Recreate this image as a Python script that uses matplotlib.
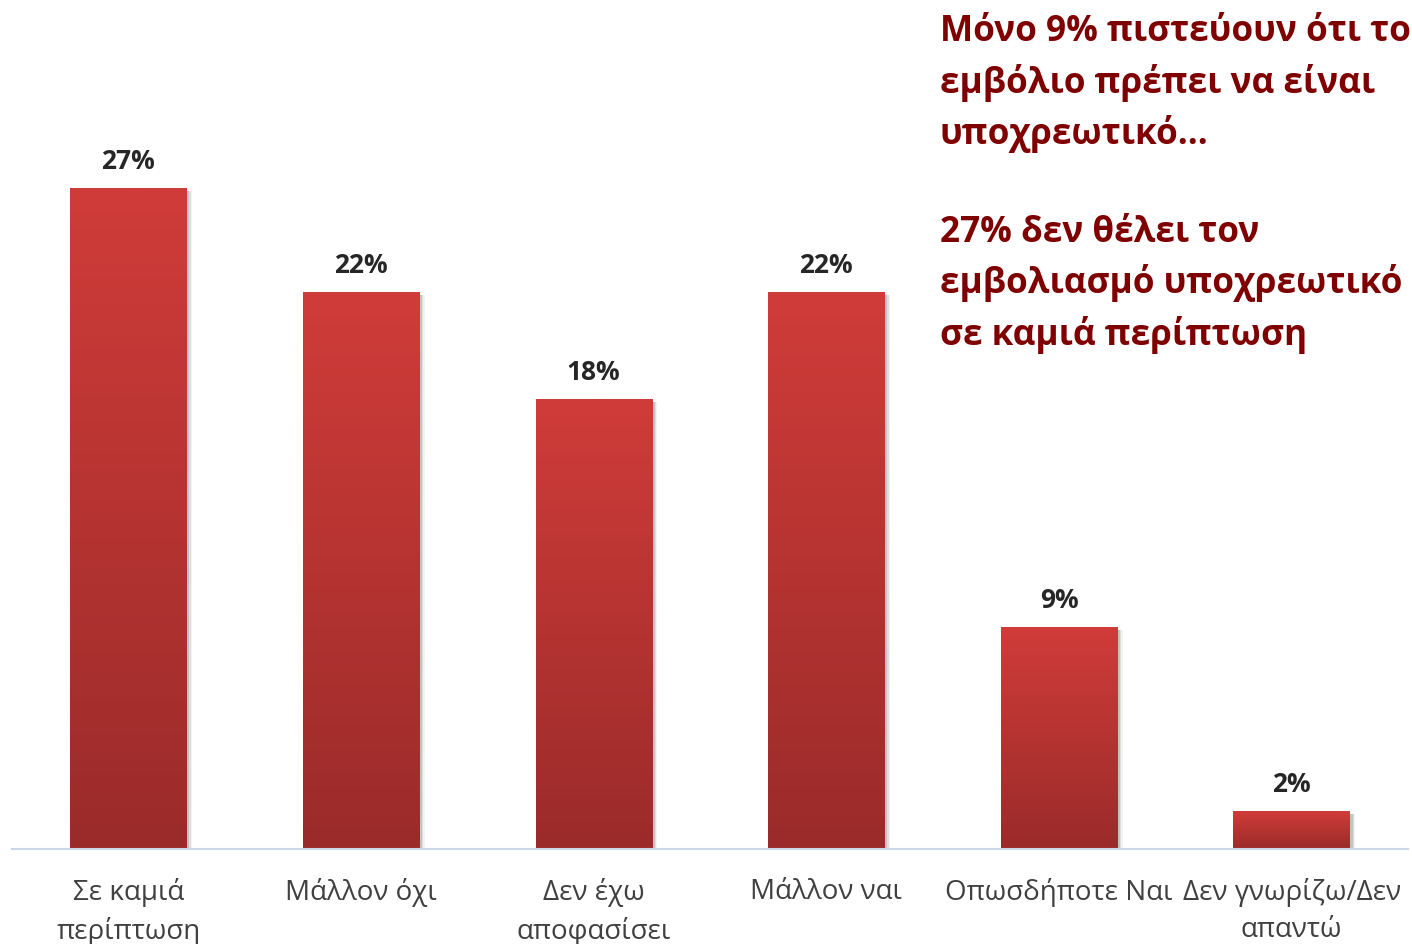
import numpy as np
import matplotlib
matplotlib.use("Agg")
import matplotlib.pyplot as plt
from matplotlib.colors import LinearSegmentedColormap
from matplotlib.patches import Rectangle

plt.rcParams['font.family'] = ['Open Sans', 'DejaVu Sans']

categories = ['Σε καμιά\nπερίπτωση', 'Μάλλον όχι', 'Δεν έχω\nαποφασίσει',
              'Μάλλον ναι', 'Οπωσδήποτε Ναι', 'Δεν γνωρίζω/Δεν\nαπαντώ']
values = [26.6, 22.4, 18.1, 22.4, 8.9, 1.5]
value_labels = ['27%', '22%', '18%', '22%', '9%', '2%']
note = ('Μόνο 9% πιστεύουν ότι το\nεμβόλιο πρέπει να είναι\nυποχρεωτικό…\n\n'
        '27% δεν θέλει τον\nεμβολιασμό υποχρεωτικό\nσε καμιά περίπτωση')

fig = plt.figure(figsize=(14.12, 9.45), dpi=100)
ax = fig.add_axes([12 / 1412, 95 / 945, 1396 / 1412, 745 / 945])

x = np.arange(len(categories))
width = 0.5
cmap = LinearSegmentedColormap.from_list('bar', ['#9a2b2a', '#d03c39'])
grad = np.linspace(0, 1, 256).reshape(-1, 1)

for xi, v in zip(x, values):
    # soft shadow to the right
    for k, a in enumerate([0.12, 0.08, 0.05]):
        ax.add_patch(Rectangle((xi - width / 2 + 0.012 + k * 0.006, -0.05), width, v - 0.05,
                               color='black', alpha=a, lw=0, zorder=1))
    ax.imshow(grad, cmap=cmap, origin='lower', aspect='auto',
              extent=(xi - width / 2, xi + width / 2, 0, v), zorder=2)

bars = ax.bar(x, values, width=width, color='none', zorder=3)
for b, lab in zip(bars, value_labels):
    ax.text(b.get_x() + b.get_width() / 2, b.get_height() + 0.6, lab,
            ha='center', va='bottom', fontsize=19, fontweight='bold', color='#262626')

ax.set_xlim(-0.5, len(categories) - 0.5)
ax.set_ylim(0, 30)
ax.set_yticks([])
ax.set_xticks(x)
ax.set_xticklabels(categories, fontsize=20, color='#404040', linespacing=1.45)
ax.tick_params(axis='x', length=0, pad=20)
for s in ['top', 'right', 'left']:
    ax.spines[s].set_visible(False)
ax.spines['bottom'].set_color('#c9d7ea')
ax.spines['bottom'].set_linewidth(1.5)
ax.spines['bottom'].set_zorder(4)

fig.text(940 / 1412, 1 - 14 / 945, note, ha='left', va='top', fontsize=25.3,
         fontweight='bold', color='#7f0000', linespacing=1.47)

fig.savefig('out.png', dpi=100)
